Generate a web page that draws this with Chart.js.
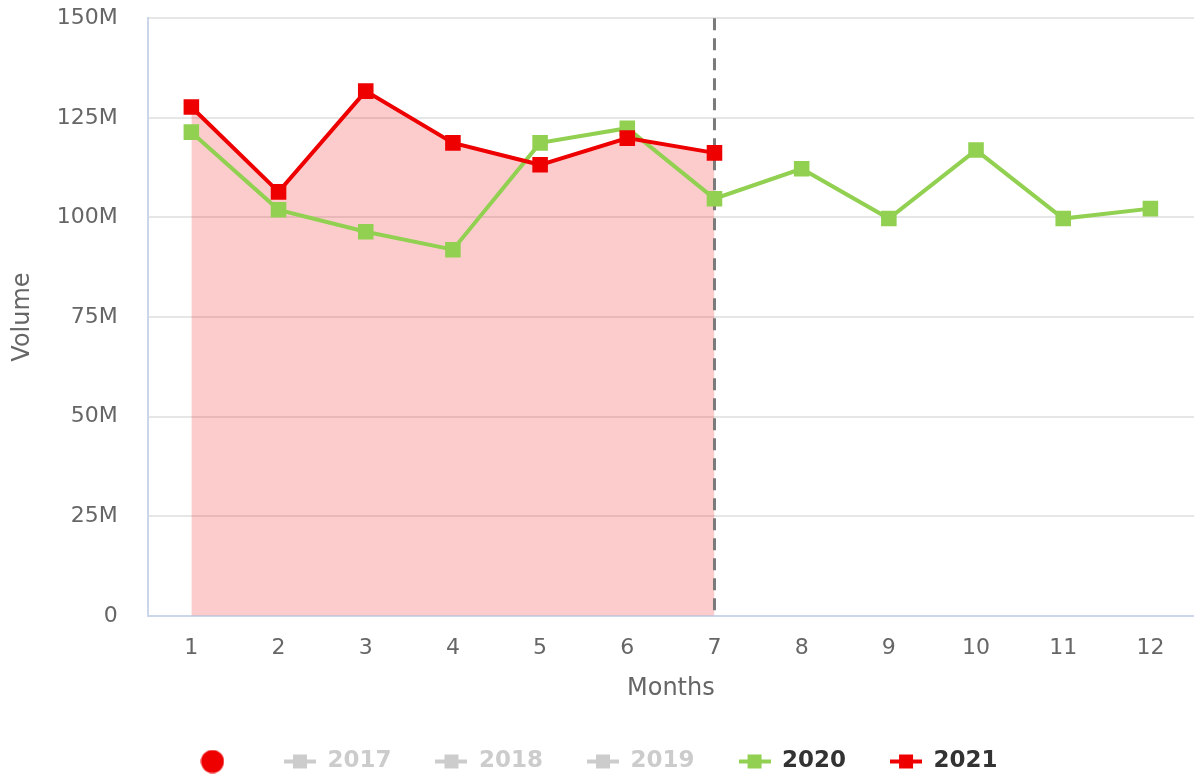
<!DOCTYPE html>
<html>
<head>
<meta charset="utf-8">
<script src="https://cdn.jsdelivr.net/npm/chart.js@4.4.1/dist/chart.umd.min.js"></script>
<style>
  html, body { margin: 0; padding: 0; background: #fff; }
  #wrap { width: 1194px; height: 776px; }
</style>
</head>
<body>
<div id="wrap"><canvas id="volumeChart"></canvas></div>
<script>
// values in millions
const months = ['1', '2', '3', '4', '5', '6', '7', '8', '9', '10', '11', '12'];
const volume2020 = [121.4, 101.9, 96.4, 91.9, 118.7, 122.4, 104.7, 112.2, 99.7, 116.9, 99.7, 102.2];
const volume2021 = [127.7, 106.4, 131.7, 118.7, 113.2, 119.9, 116.2];
const yTicks = [0, 25, 50, 75, 100, 125, 150];
const legendYears = ['2017', '2018', '2019', '2020', '2021'];
const hiddenYears = ['2017', '2018', '2019'];
const currentMonth = '7';

const colors = { '2020': '#91d050', '2021': '#ee0000', off: '#cccccc' };
const FONT = 'DejaVu Sans';
const NONE = 'rgba(0,0,0,0)';

function legendIcon(color) {
    const c = document.createElement('canvas');
    c.width = 32; c.height = 16;
    const g = c.getContext('2d');
    g.strokeStyle = color;
    g.lineWidth = 4;
    g.beginPath(); g.moveTo(0, 8); g.lineTo(32, 8); g.stroke();
    g.fillStyle = color;
    g.fillRect(9, 1, 14, 14);
    return c;
}

function dotIcon(color) {
    const c = document.createElement('canvas');
    c.width = 24; c.height = 24;
    const g = c.getContext('2d');
    g.fillStyle = color;
    g.beginPath(); g.arc(12, 12, 11.5, 0, Math.PI * 2); g.fill();
    return c;
}

// dashed marker at the current month
const currentLine = {
    id: 'currentLine',
    beforeDatasetsDraw(chart) {
        const x = chart.scales.x.getPixelForValue(months.indexOf(currentMonth));
        const area = chart.chartArea;
        const ctx = chart.ctx;
        ctx.save();
        ctx.strokeStyle = '#7a7a7a';
        ctx.lineWidth = 3;
        ctx.setLineDash([12, 8]);
        ctx.beginPath();
        ctx.moveTo(x, area.top);
        ctx.lineTo(x, area.bottom);
        ctx.stroke();
        ctx.restore();
    }
};

// trim the legend box a little so it sits lower
const legendFit = {
    id: 'legendFit',
    beforeInit(chart) {
        const fit = chart.legend.fit;
        chart.legend.fit = function () {
            fit.call(this);
            this.height -= 7;
        };
    }
};

const ctx = document.getElementById('volumeChart').getContext('2d');
new Chart(ctx, {
    type: 'line',
    data: {
        labels: months,
        datasets: [{
            label: '2020',
            data: volume2020,
            order: 1,
            borderColor: colors['2020'],
            backgroundColor: colors['2020'],
            borderWidth: 4,
            pointStyle: 'rect',
            pointRadius: 11,
            pointBorderWidth: 0,
            fill: false,
            tension: 0
        }, {
            label: '2021',
            data: volume2021,
            order: 0,
            borderColor: colors['2021'],
            backgroundColor: 'rgba(238,0,0,0.2)',
            pointBackgroundColor: colors['2021'],
            borderWidth: 4,
            pointStyle: 'rect',
            pointRadius: 11,
            pointBorderWidth: 0,
            fill: 'origin',
            tension: 0
        }]
    },
    options: {
        responsive: true,
        maintainAspectRatio: false,
        animation: false,
        layout: { padding: 0, autoPadding: false },
        scales: {
            x: {
                offset: true,
                afterFit: scale => { scale.paddingLeft = 0; scale.paddingRight = 0; },
                grid: { display: true, drawOnChartArea: false, drawTicks: true, tickLength: 16, tickColor: NONE },
                border: { color: '#ccd6eb', width: 2 },
                ticks: { color: '#666', padding: 3, font: { family: FONT, size: 22 } },
                title: { display: true, text: 'Months', color: '#666', padding: { top: 10, bottom: 3 }, font: { family: FONT, size: 24 } }
            },
            y: {
                min: yTicks[0],
                max: yTicks[yTicks.length - 1],
                afterBuildTicks: axis => { axis.ticks = yTicks.map(v => ({ value: v })); },
                grid: { color: '#e6e6e6', lineWidth: 2, drawTicks: true, tickLength: 25, tickColor: NONE },
                border: { color: '#ccd6eb', width: 2 },
                ticks: {
                    color: '#666', padding: 5, font: { family: FONT, size: 22 },
                    callback: v => v === 0 ? '0' : v + 'M'
                },
                title: { display: true, text: 'Volume', color: '#666', padding: { top: 8, bottom: 15 }, font: { family: FONT, size: 24 } }
            }
        },
        plugins: {
            tooltip: { enabled: false },
            filler: { drawTime: 'beforeDatasetsDraw' },
            legend: {
                position: 'bottom',
                labels: {
                    usePointStyle: true,
                    pointStyleWidth: 32,
                    padding: 44,
                    font: { family: FONT, size: 23, weight: 'bold' },
                    generateLabels: () => {
                        const items = [{ text: '', pointStyle: dotIcon(colors['2021']), fontColor: '#333', hidden: false, lineWidth: 0 }];
                        legendYears.forEach(y => {
                            const off = hiddenYears.includes(y);
                            items.push({
                                text: y,
                                pointStyle: legendIcon(off ? colors.off : colors[y]),
                                fontColor: off ? colors.off : '#333',
                                hidden: false,
                                lineWidth: 0
                            });
                        });
                        return items;
                    }
                }
            }
        }
    },
    plugins: [currentLine, legendFit]
});
</script>
</body>
</html>
